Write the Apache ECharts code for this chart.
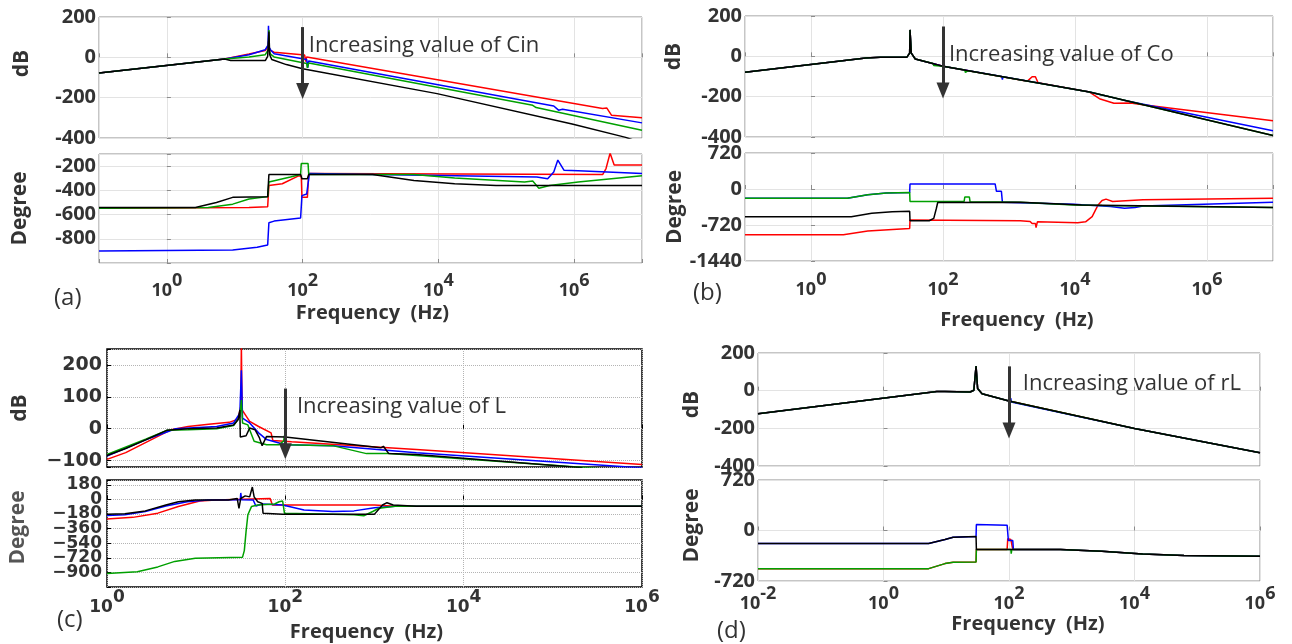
<!DOCTYPE html>
<html>
<head>
<meta charset="utf-8">
<title>Bode plots - parameter sweeps</title>
<script src="https://cdn.jsdelivr.net/npm/echarts@6/dist/echarts.min.js"></script>
<style>
    html, body { margin: 0; padding: 0; background: #fff; }
    #chart { width: 1292px; height: 644px; }
</style>
</head>
<body>
<div id="chart"></div>
<script>
// x of every point is log10(frequency in Hz), y is dB or degree

// (a) increasing Cin
var cinMagRed = [[-1,-78],[0.85,-8],[1.21,16],[1.45,34],[1.49,55],[1.497,80],[1.505,45],[1.527,34],[1.58,25],[2.03,11],[2.045,-21],[2.06,2],[6.42,-254],[6.48,-251],[6.55,-287],[7,-299]];
var cinMagBlue = [[-1,-78],[0.85,-8],[1.21,13],[1.45,38],[1.49,60],[1.497,156],[1.505,50],[1.527,38],[1.58,18],[2.06,-11],[2.075,-52],[2.09,-18],[5.7,-241],[5.77,-262],[5.83,-257],[7,-325]];
var cinMagGreen = [[-1,-78],[0.85,-8],[1.21,2],[1.45,13],[1.497,40],[1.503,136],[1.51,30],[1.53,15],[1.58,2],[2.06,-31],[2.07,-52],[2.09,-28],[5.39,-238],[5.44,-249],[7,-362]];
var cinMagBlack = [[-1,-78],[0.85,-8],[0.94,-16],[1.45,-16],[1.485,5],[1.503,128],[1.515,13],[1.545,-11],[1.76,-36],[2,-57],[3.98,-180],[5.97,-331],[6.76,-397],[7,-425]];
var cinPhRed = [[-1,-548],[1.21,-542],[1.485,-536],[1.503,-360],[1.7,-346],[1.94,-281],[1.98,-281],[1.99,-458],[2.07,-458],[2.09,-262],[6.42,-270],[6.47,-220],[6.53,-93],[6.59,-191],[7,-191]];
var cinPhBlue = [[-1,-901],[0.97,-893],[1.33,-870],[1.485,-851],[1.503,-668],[1.58,-654],[1.97,-629],[1.99,-444],[2.06,-430],[2.085,-416],[2.1,-262],[5.45,-290],[5.61,-304],[5.7,-248],[5.76,-150],[5.85,-234],[6.06,-239],[7,-262]];
var cinPhGreen = [[-1,-548],[0.61,-542],[0.97,-514],[1.21,-472],[1.485,-452],[1.503,-332],[1.82,-290],[1.97,-270],[1.98,-178],[2.08,-178],[2.09,-270],[3.64,-270],[4.24,-298],[5.27,-332],[5.39,-323],[5.48,-382],[5.64,-360],[6.06,-332],[7,-280]];
var cinPhBlack = [[-1,-542],[0.42,-542],[0.73,-500],[0.97,-458],[1.485,-452],[1.503,-270],[1.97,-270],[1.99,-304],[2.07,-304],[2.09,-270],[3.03,-270],[3.64,-318],[4.24,-346],[4.85,-360],[7,-360]];

// (b) increasing Co
var coMagRed = [[-1,-79],[0.83,-8],[1.05,-5],[1.45,-5],[1.495,16],[1.5,131],[1.52,16],[1.58,-13],[2,-49],[3.28,-123],[3.35,-101],[3.4,-101],[3.44,-131],[4.22,-177],[4.37,-210],[4.59,-233],[4.84,-231],[5.03,-240],[7,-320]];
var coMagBlue = [[-1,-79],[0.83,-8],[1.05,-5],[1.45,-5],[1.495,16],[1.5,131],[1.52,16],[1.58,-13],[2,-49],[2.89,-100],[2.9,-115],[2.91,-101],[4.22,-177],[4.72,-216],[7,-369]];
var coMagGreen = [[-1,-79],[0.83,-8],[1.05,-5],[1.45,-5],[1.495,16],[1.5,131],[1.52,16],[1.58,-13],[1.85,-36],[1.86,-46],[1.88,-40],[2,-49],[2.33,-68],[2.34,-80],[2.37,-80],[2.38,-71],[4.22,-177],[7,-393]];
var coMagBlack = [[-1,-79],[0.83,-8],[1.05,-5],[1.45,-5],[1.495,16],[1.5,131],[1.52,16],[1.58,-13],[2,-49],[4.22,-177],[7,-393]];
var coPhRed = [[-1,-913],[0.49,-913],[0.86,-838],[1.3,-804],[1.495,-791],[1.5,-622],[3.17,-635],[3.32,-649],[3.35,-690],[3.4,-690],[3.41,-771],[3.43,-656],[4.04,-676],[4.16,-656],[4.26,-554],[4.35,-318],[4.41,-230],[4.47,-203],[4.57,-250],[5.03,-216],[7,-183]];
var coPhBlue = [[-1,-183],[0.55,-183],[0.86,-115],[1.14,-81],[1.495,-68],[1.5,101],[2.79,101],[2.81,-47],[2.885,-47],[2.9,-264],[3.98,-304],[4.54,-351],[4.75,-385],[4.91,-372],[5.03,-338],[7,-264]];
var coPhGreen = [[-1,-183],[0.55,-183],[0.86,-115],[1.14,-81],[1.495,-68],[1.5,-250],[2.32,-250],[2.33,-162],[2.4,-162],[2.41,-257],[3.17,-264],[3.98,-318],[4.41,-331],[7,-372]];
var coPhBlack = [[-1,-554],[0.61,-554],[0.92,-487],[1.23,-453],[1.495,-446],[1.5,-635],[1.79,-635],[1.86,-588],[1.9,-385],[1.92,-270],[3.17,-264],[4.1,-318],[7,-372]];

// (c) increasing L
var lMagRed = [[0,-96],[0.21,-75],[0.72,-3],[0.91,7],[1.14,14],[1.37,20],[1.47,30],[1.5,69],[1.507,260],[1.515,59],[1.6,23],[1.7,7],[1.84,-13],[1.856,-13],[1.86,-37],[2.07,-41],[3.47,-65],[6,-112]];
var lMagBlue = [[0,-86],[0.44,-34],[0.77,0],[1.23,7],[1.42,18],[1.49,49],[1.507,183],[1.52,33],[1.6,18],[1.7,-13],[1.79,-34],[2,-50],[2.53,-53],[3.47,-75],[5.81,-119],[6,-122]];
var lMagGreen = [[0,-81],[0.44,-32],[0.67,-5],[0.91,-3],[1.23,0],[1.42,10],[1.49,38],[1.507,90],[1.52,18],[1.58,12],[1.6,-3],[1.65,-39],[1.79,-50],[1.93,-50],[1.98,-39],[2,-8],[2.01,-50],[2.53,-53],[2.91,-78],[3.16,-78],[3.47,-84],[5.51,-125]];
var lMagBlack = [[0,-84],[0.21,-62],[0.44,-34],[0.67,-5],[0.91,0],[1.23,2],[1.42,12],[1.47,28],[1.49,59],[1.495,-26],[1.56,-22],[1.6,2],[1.66,-3],[1.71,-29],[1.74,-53],[1.79,-24],[2,-26],[3.07,-60],[3.1,-55],[3.16,-78],[3.47,-81],[5.33,-122]];
var lPhRed = [[0,-241],[0.29,-221],[0.57,-169],[0.8,-88],[1.04,-20],[1.22,-8],[1.83,12],[1.85,12],[1.855,-68],[3,-68],[3.23,-84],[6,-84]];
var lPhBlue = [[0,-197],[0.2,-189],[0.43,-149],[0.66,-80],[0.9,-28],[1.13,-8],[1.495,-4],[1.5,80],[1.51,-4],[1.64,-8],[1.67,-80],[1.74,-56],[1.97,-68],[2.21,-129],[2.53,-149],[2.77,-141],[3,-101],[3.23,-84],[6,-84]];
var lPhGreen = [[0,-913],[0.34,-892],[0.57,-832],[0.76,-764],[0.99,-724],[1.52,-712],[1.54,-631],[1.56,-390],[1.58,-189],[1.62,-88],[1.69,-68],[1.88,-56],[1.93,-28],[1.97,-20],[1.99,-169],[2.53,-181],[2.77,-189],[2.88,-201],[2.98,-149],[3.05,-109],[3.23,-84],[6,-84]];
var lPhBlack = [[0,-181],[0.2,-177],[0.43,-141],[0.66,-68],[0.8,-28],[0.99,-8],[1.36,-8],[1.46,12],[1.48,-109],[1.5,12],[1.55,44],[1.6,32],[1.63,153],[1.65,32],[1.69,-28],[1.74,-48],[1.75,-169],[1.97,-181],[3,-181],[3.09,-68],[3.14,-40],[3.21,-68],[3.47,-84],[6,-84]];

// (d) increasing rL
var rlMagShared = [[-2,-122],[0.85,-4],[0.98,-4],[1.38,-7],[1.44,2],[1.475,131],[1.5,11],[1.57,-16],[2,-55],[4,-201],[6,-330]];
var rlMagBlue = [[-2,-122],[0.85,-4],[0.98,-4],[1.38,-7],[1.44,2],[1.475,131],[1.5,11],[1.57,-16],[2,-55],[2.02,-56],[2.03,-40],[2.035,-60],[2.04,-58],[4,-201],[6,-330]];
var rlPhRed = [[-2,-544],[0.72,-544],[0.98,-472],[1.11,-453],[1.475,-448],[1.48,-272],[1.97,-272],[1.98,-119],[2.03,-129],[2.06,-272],[2.82,-272],[3.48,-296],[4.13,-334],[4.79,-358],[6,-367]];
var rlPhBlue = [[-2,-186],[0.72,-186],[0.98,-129],[1.11,-95],[1.475,-86],[1.48,86],[1.97,76],[1.99,-143],[2.06,-143],[2.07,-272],[2.82,-272],[3.48,-296],[4.13,-334],[4.79,-358],[6,-367]];
var rlPhGreen = [[-2,-544],[0.72,-544],[0.98,-472],[1.11,-453],[1.475,-448],[1.48,-272],[2.03,-272],[2.035,-329],[2.045,-272],[2.82,-272],[3.48,-296],[4.13,-334],[4.79,-358],[6,-367]];
var rlPhBlack = [[-2,-186],[0.72,-186],[0.98,-129],[1.11,-95],[1.475,-86],[1.48,-272],[2.82,-272],[3.48,-296],[4.13,-334],[4.79,-358],[6,-367]];

var panelLetters = ['(a)', '(b)', '(c)', '(d)'];
var arrowTexts = ['Increasing value of Cin', 'Increasing value of Co', 'Increasing value of L', 'Increasing value of rL'];

var TXT = '#333333';
var FONT = "'Open Sans', sans-serif";
var FONT_C = "'DejaVu Sans', sans-serif";
var lineColors = ['#ff0000', '#0000ff', '#00a000', '#000000'];

// two looks: new matlab grid (a, b, d) and old dotted one (c)
var newLook = { frame: '#8c8c8c', grid: '#e3e3e3', gridType: 'solid', font: FONT, size: 20, xSize: 18 };
var oldLook = { frame: '#000000', grid: '#b4b4b4', gridType: 'dotted', font: FONT_C, size: 17, xSize: 17 };

var grids = [
    { left: 99, top: 17, width: 543, height: 121 },
    { left: 99, top: 154, width: 543, height: 109 },
    { left: 745, top: 16, width: 528, height: 121 },
    { left: 745, top: 153, width: 528, height: 108 },
    { left: 107, top: 349, width: 535, height: 118 },
    { left: 107, top: 480, width: 535, height: 107 },
    { left: 758, top: 353, width: 502, height: 113 },
    { left: 758, top: 480, width: 502, height: 101 }
];
var looks = [newLook, newLook, newLook, newLook, oldLook, oldLook, newLook, newLook];

// "10" sits on the bottom of the line, the exponent at its top
function powRich(look) {
    var line = look.xSize + 10;
    return {
        b: { fontFamily: look.font, fontSize: look.xSize, fontWeight: 'bold', color: TXT, lineHeight: line, verticalAlign: 'bottom' },
        s: { fontFamily: look.font, fontSize: look.xSize, fontWeight: 'bold', color: TXT, lineHeight: look.xSize, verticalAlign: 'top' }
    };
}

function freqAxis(g, min, max, cfg) {
    var look = looks[g];
    var ax = {
        type: 'value', gridIndex: g, min: min, max: max,
        axisLine: { show: false },
        axisTick: { show: true, inside: true, length: 4, lineStyle: { color: look.frame } },
        splitLine: { show: true, lineStyle: { color: look.grid, type: look.gridType, width: 1 } },
        axisLabel: { show: false }
    };
    if (cfg.interval) ax.interval = cfg.interval; else ax.splitNumber = cfg.split;
    if (cfg.labels) {
        ax.axisLabel = {
            show: true, margin: cfg.margin,
            formatter: function (v) {
                if (Math.abs(v % 2) > 1e-9) return '';
                return '{b|10}{s|' + v + '}';
            },
            rich: powRich(look)
        };
        ax.name = 'Frequency  (Hz)';
        ax.nameLocation = 'middle';
        ax.nameGap = cfg.nameGap;
        ax.nameTextStyle = { fontFamily: FONT, fontSize: 20, fontWeight: 'bold', color: TXT, padding: cfg.namePad || 0 };
    }
    return ax;
}

function levelAxis(g, min, max, name, cfg) {
    var look = looks[g];
    var ax = {
        type: 'value', gridIndex: g, min: min, max: max,
        name: name, nameLocation: 'middle', nameGap: cfg.nameGap,
        nameTextStyle: { fontFamily: FONT, fontSize: 21, fontWeight: 'bold', color: cfg.nameColor || TXT, padding: cfg.namePad || 0 },
        axisLine: { show: false },
        axisTick: { show: true, inside: true, length: 4, lineStyle: { color: look.frame } },
        splitLine: { show: true, lineStyle: { color: look.grid, type: look.gridType, width: 1 } },
        axisLabel: {
            margin: cfg.margin || 3, fontFamily: look.font, fontSize: cfg.size || look.size, fontWeight: 'bold', color: TXT,
            formatter: cfg.fmt || function (v) { return String(v); }
        }
    };
    if (cfg.interval) ax.interval = cfg.interval; else ax.splitNumber = cfg.split;
    return ax;
}

function minusSign(v) { return v < 0 ? '\u2212' + (-v) : String(v); }

function curves(g, red, blue, green, black) {
    return [red, blue, green, black].map(function (d, i) {
        return {
            type: 'line', xAxisIndex: g, yAxisIndex: g, data: d,
            symbol: 'none', silent: true,
            lineStyle: { color: lineColors[i], width: 1.5 },
            itemStyle: { color: lineColors[i] }
        };
    });
}

// arrow and its caption, placed in data units of the magnitude plot
function annotate(s, x, yFrom, yTo, tx, ty, text) {
    s.markLine = {
        silent: true, animation: false,
        symbol: ['none', 'triangle'], symbolSize: [13, 16],
        label: { show: false },
        lineStyle: { color: '#333', width: 3, type: 'solid' },
        data: [[{ coord: [x, yFrom] }, { coord: [x, yTo] }]]
    };
    s.markPoint = {
        silent: true, animation: false,
        symbol: 'circle', symbolSize: 0,
        label: { show: true, position: 'right', distance: 0, formatter: text, fontFamily: FONT, fontSize: 22, color: '#333' },
        data: [{ coord: [tx, ty] }]
    };
}

var series = [].concat(
    curves(0, cinMagRed, cinMagBlue, cinMagGreen, cinMagBlack),
    curves(1, cinPhRed, cinPhBlue, cinPhGreen, cinPhBlack),
    curves(2, coMagRed, coMagBlue, coMagGreen, coMagBlack),
    curves(3, coPhRed, coPhBlue, coPhGreen, coPhBlack),
    curves(4, lMagRed, lMagBlue, lMagGreen, lMagBlack),
    curves(5, lPhRed, lPhBlue, lPhGreen, lPhBlack),
    curves(6, rlMagShared, rlMagBlue, rlMagShared, rlMagShared),
    curves(7, rlPhRed, rlPhBlue, rlPhGreen, rlPhBlack)
);
annotate(series[3], 2, 150, -167, 2.09, 56, arrowTexts[0]);
annotate(series[11], 2, 148, -170, 2.09, 8, arrowTexts[1]);
annotate(series[19], 2, 126, -71, 2.13, 69, arrowTexts[2]);
annotate(series[27], 2, 129, -212, 2.22, 37, arrowTexts[3]);

var option = {
    backgroundColor: '#ffffff',
    animation: false,
    title: [
        { text: panelLetters[0], left: 54, top: 286 },
        { text: panelLetters[1], left: 693, top: 281 },
        { text: panelLetters[2], left: 57, top: 608 },
        { text: panelLetters[3], left: 717, top: 619 }
    ].map(function (t) {
        t.padding = 0;
        t.textStyle = { fontFamily: FONT, fontSize: 24, fontWeight: 'normal', color: TXT };
        return t;
    }),
    grid: grids.map(function (g, i) {
        return {
            left: g.left, top: g.top, width: g.width, height: g.height,
            show: true, borderColor: looks[i].frame, borderWidth: i === 4 || i === 5 ? 1.5 : 1,
            backgroundColor: '#fff', containLabel: false, outerBoundsMode: 'none'
        };
    }),
    xAxis: [
        freqAxis(0, -1, 7, { split: 4 }),
        freqAxis(1, -1, 7, { split: 4, labels: true, margin: 9, nameGap: 40, namePad: [0, 0, 0, 4] }),
        freqAxis(2, -1, 7, { split: 4 }),
        freqAxis(3, -1, 7, { split: 4, labels: true, margin: 10, nameGap: 49, namePad: [0, 0, 0, 16] }),
        freqAxis(4, 0, 6, { interval: 2 }),
        freqAxis(5, 0, 6, { interval: 2, labels: true, margin: 2, nameGap: 35, namePad: [0, 16, 0, 0] }),
        freqAxis(6, -2, 6, { interval: 2 }),
        freqAxis(7, -2, 6, { interval: 2, labels: true, margin: 4, nameGap: 32, namePad: [0, 0, 0, 38] })
    ],
    yAxis: [
        levelAxis(0, -400, 200, 'dB', { interval: 200, nameGap: 66, namePad: [0, 0, 0, 28] }),
        levelAxis(1, -1000, -100, 'Degree', {
            interval: 200, nameGap: 68,
            fmt: function (v) { return (v <= -1000 || v > -200) ? '' : String(v); }
        }),
        levelAxis(2, -400, 200, 'dB', { interval: 200, nameGap: 60, namePad: [0, 0, 0, 40] }),
        levelAxis(3, -1440, 720, 'Degree', { interval: 720, nameGap: 56 }),
        levelAxis(4, -120, 250, 'dB', {
            split: 4, nameGap: 76, margin: 5, size: 19,
            fmt: function (v) { return v % 100 !== 0 ? '' : minusSign(v); }
        }),
        levelAxis(5, -1080, 240, 'Degree', {
            interval: 180, nameGap: 78, margin: 5, nameColor: '#555', namePad: [0, 0, 0, 12],
            fmt: function (v) { return (v % 180 !== 0 || v === -1080) ? '' : minusSign(v); }
        }),
        levelAxis(6, -400, 200, 'dB', { interval: 200, nameGap: 55, namePad: [0, 0, 0, 10] }),
        levelAxis(7, -720, 720, 'Degree', { interval: 720, nameGap: 55, namePad: [0, 0, 0, 10] })
    ],
    series: series
};

var chart = echarts.init(document.getElementById('chart'));
chart.setOption(option);
</script>
</body>
</html>
